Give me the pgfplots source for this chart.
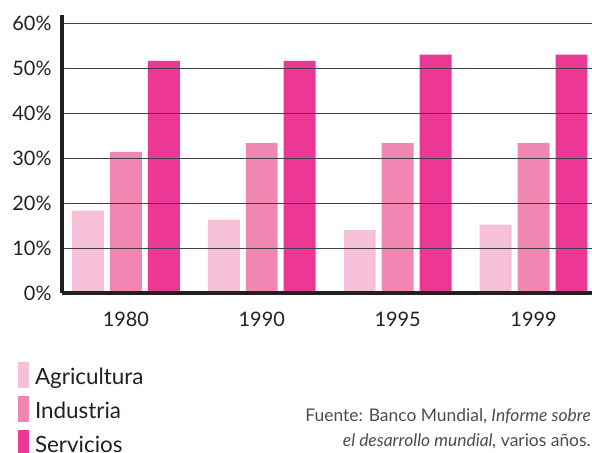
\documentclass[border=0pt]{standalone}
\usepackage{pgfplots}
\pgfplotsset{compat=1.18}
\usepackage{fontspec}
\setmainfont{Lato}
\definecolor{agri}{RGB}{246,192,216}
\definecolor{ind}{RGB}{240,135,178}
\definecolor{serv}{RGB}{236,56,148}
\definecolor{axgray}{RGB}{35,31,32}
\begin{document}
\begin{tikzpicture}
\useasboundingbox (0,0) rectangle (592bp,453bp);
\begin{axis}[
 at={(62bp,160bp)}, anchor=south west,
 scale only axis, width=530bp, height=278bp,
 xmin=-0.47, xmax=3.43, ymin=0, ymax=61.8,
 axis lines=left, axis line style={line width=4bp, color=axgray, -},
 axis on top,
 ybar, bar width=0.235,
 xtick={0,1,2,3}, xticklabels={1980,1990,1995,1999},
 ytick={0,10,20,30,40,50,60}, yticklabels={0\%,10\%,20\%,30\%,40\%,50\%,60\%},
 major tick length=0,
 ymajorgrids, grid style={line width=0.9bp, color=black!75},
 tick label style={font=\fontsize{20}{22}\selectfont, color=axgray},
 xticklabel style={yshift=-16bp},
 yticklabel style={xshift=-7bp},
 legend style={at={(-0.083,-0.2469)}, anchor=north west, draw=none, fill=none,
   inner sep=0pt, outer sep=0pt,
   font=\fontsize{22.5}{24}\selectfont, row sep=8bp,
   nodes={inner sep=1bp, text=axgray},
   /tikz/every odd column/.append style={column sep=5bp}},
 legend cell align=left,
 legend image code/.code={\fill[#1] (0bp,-10.5bp) rectangle (11bp,15.5bp);},
]
\addplot[fill=agri, draw=none, bar shift=-0.279] coordinates {(0,18.3) (1,16.3) (2,14.0) (3,15.2)};
\addplot[fill=ind, draw=none, bar shift=0] coordinates {(0,31.4) (1,33.3) (2,33.3) (3,33.3)};
\addplot[fill=serv, draw=none, bar shift=0.279] coordinates {(0,51.6) (1,51.6) (2,53.0) (3,53.0)};
\legend{Agricultura, Industria, Servicios}
\end{axis}
\node[anchor=base east, inner sep=0pt, font=\fontsize{17.5}{20}\selectfont, text=black!70] at (591bp,32bp) {Fuente: Banco Mundial, \textit{Informe sobre}};
\node[anchor=base east, inner sep=0pt, font=\fontsize{17.5}{20}\selectfont, text=black!70] at (591bp,7bp) {\textit{el desarrollo mundial,} varios años.};
\end{tikzpicture}
\end{document}
